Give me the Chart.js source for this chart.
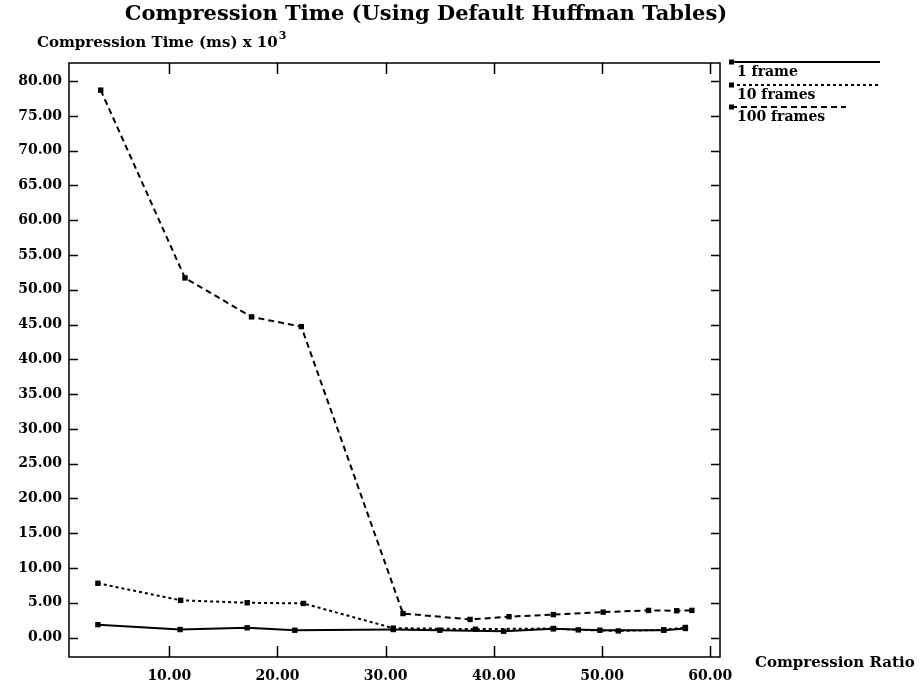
<!DOCTYPE html>
<html>
<head>
<meta charset="utf-8">
<script src="https://cdn.jsdelivr.net/npm/chart.js@4.4.1/dist/chart.umd.min.js"></script>
<style>
  html, body { margin: 0; padding: 0; background: #fff; }
  canvas { display: block; }
</style>
</head>
<body>
<canvas id="timeChart" width="924" height="688"></canvas>
<script>
// tick labels
const xTicks = [10, 20, 30, 40, 50, 60];
const yTicks = [0, 5, 10, 15, 20, 25, 30, 35, 40, 45, 50, 55, 60, 65, 70, 75, 80];

// 1 frame
const ratio1 = [3.4, 11.0, 17.2, 21.6, 30.7, 35.0, 40.9, 45.5, 49.8, 55.7, 57.7];
const time1 = [1.85, 1.15, 1.4, 1.05, 1.15, 1.05, 0.9, 1.25, 1.05, 1.05, 1.3];

// 10 frames
const ratio10 = [3.4, 11.05, 17.2, 22.4, 30.7, 38.3, 45.5, 47.8, 51.5, 55.7, 57.7];
const time10 = [7.8, 5.35, 5.0, 4.9, 1.35, 1.2, 1.3, 1.1, 0.95, 1.1, 1.45];

// 100 frames
const ratio100 = [3.66, 11.45, 17.6, 22.2, 31.6, 37.8, 41.4, 45.5, 50.1, 54.3, 56.9, 58.3];
const time100 = [78.7, 51.7, 46.1, 44.7, 3.45, 2.6, 3.0, 3.3, 3.65, 3.9, 3.85, 3.9];

const seriesNames = ['1 frame', '10 frames', '100 frames'];

const serif = "'DejaVu Serif', 'Liberation Serif', serif";

function toPoints(xs, ys) {
  return xs.map((x, i) => ({ x: x, y: ys[i] }));
}

function lineSet(label, xs, ys, dash) {
  return {
    label: label,
    data: toPoints(xs, ys),
    showLine: true,
    borderColor: '#000',
    backgroundColor: '#000',
    borderWidth: 2,
    borderDash: dash,
    pointStyle: 'rect',
    pointRadius: 3.8,
    pointBorderWidth: 0,
    tension: 0
  };
}

// frame, inward ticks, titles and legend
const decorations = {
  id: 'decorations',
  afterDraw(chart) {
    const ctx = chart.ctx;
    const a = chart.chartArea;
    const xs = chart.scales.x;
    const ys = chart.scales.y;
    ctx.save();
    ctx.strokeStyle = '#000';
    ctx.fillStyle = '#000';
    ctx.setLineDash([]);
    ctx.lineWidth = 1.5;
    ctx.strokeRect(a.left, a.top, a.right - a.left, a.bottom - a.top);

    yTicks.forEach(v => {
      const py = Math.round(ys.getPixelForValue(v)) + 0.5;
      ctx.beginPath();
      ctx.moveTo(a.left, py); ctx.lineTo(a.left + 9, py);
      ctx.moveTo(a.right, py); ctx.lineTo(a.right - 9, py);
      ctx.stroke();
    });
    xTicks.forEach(v => {
      const px = Math.round(xs.getPixelForValue(v)) + 0.5;
      ctx.beginPath();
      ctx.moveTo(px, a.bottom); ctx.lineTo(px, a.bottom - 11);
      ctx.moveTo(px, a.top); ctx.lineTo(px, a.top + 11);
      ctx.stroke();
    });

    ctx.textBaseline = 'middle';
    ctx.textAlign = 'center';
    ctx.font = 'bold 21px ' + serif;
    ctx.fillText('Compression Time (Using Default Huffman Tables)', 426, 15);

    ctx.textAlign = 'left';
    const axisText = 'Compression Time (ms) x 10';
    ctx.font = 'bold 15px ' + serif;
    ctx.fillText(axisText, 37, 43);
    const w = ctx.measureText(axisText).width;
    ctx.font = 'bold 11px ' + serif;
    ctx.fillText('3', 37 + w + 1, 36);

    ctx.font = 'bold 15px ' + serif;
    ctx.fillText('Compression Ratio', 755, 663);

    // legend: line with marker, label underneath
    const lineY = [62, 85, 107];
    const textY = [72, 95, 117];
    const lineEnd = [880, 880, 846];
    chart.data.datasets.forEach((ds, i) => {
      ctx.lineWidth = 2;
      ctx.setLineDash(ds.borderDash || []);
      ctx.beginPath();
      ctx.moveTo(731, lineY[i]);
      ctx.lineTo(lineEnd[i], lineY[i]);
      ctx.stroke();
      ctx.setLineDash([]);
      ctx.fillRect(729, lineY[i] - 2.5, 5, 5);
      ctx.font = 'bold 14px ' + serif;
      ctx.fillText(ds.label, 737, textY[i]);
    });
    ctx.restore();
  }
};

const timeChart = new Chart(
  document.getElementById('timeChart').getContext('2d'),
  {
    type: 'scatter',
    data: {
      datasets: [
        lineSet(seriesNames[0], ratio1, time1, []),
        lineSet(seriesNames[1], ratio10, time10, [3, 3]),
        lineSet(seriesNames[2], ratio100, time100, [6, 4])
      ]
    },
    options: {
      responsive: false,
      animation: false,
      layout: {
        padding: { left: 9, right: 204, top: 63, bottom: 0 }
      },
      plugins: {
        legend: { display: false },
        title: { display: false },
        tooltip: { enabled: false }
      },
      scales: {
        x: {
          type: 'linear',
          min: 0.73,
          max: 60.9,
          afterBuildTicks: s => { s.ticks = xTicks.map(v => ({ value: v })); },
          afterFit: s => { s.height = 31; },
          grid: { display: false, drawTicks: false },
          border: { display: false },
          ticks: {
            color: '#000',
            padding: 11,
            maxRotation: 0,
            font: { family: serif, weight: 'bold', size: 14 },
            callback: v => v.toFixed(2)
          }
        },
        y: {
          type: 'linear',
          min: -2.8,
          max: 82.6,
          afterBuildTicks: s => { s.ticks = yTicks.map(v => ({ value: v })); },
          afterFit: s => { s.width = 60; },
          grid: { display: false, drawTicks: false },
          border: { display: false },
          ticks: {
            color: '#000',
            padding: 7,
            font: { family: serif, weight: 'bold', size: 14 },
            callback: v => v.toFixed(2)
          }
        }
      }
    },
    plugins: [decorations]
  }
);
</script>
</body>
</html>
